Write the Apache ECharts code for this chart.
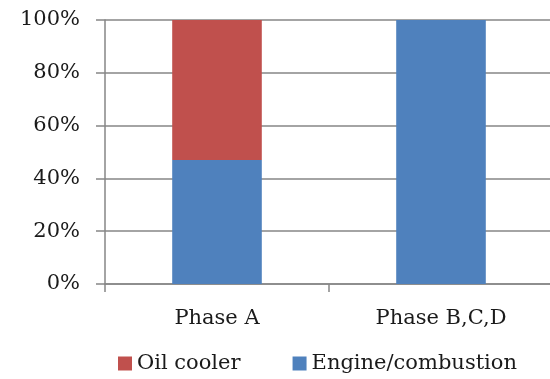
<!DOCTYPE html>
<html><head><meta charset="utf-8">
<script src="https://cdn.jsdelivr.net/npm/echarts@6/dist/echarts.min.js"></script>
<style>html,body{margin:0;padding:0;background:#fff}#c{width:550px;height:379px}</style>
</head><body><div id="c"></div>
<script>
const categories = ['Phase A', 'Phase B,C,D'];
const engineValues = [47, 100];
const oilCoolerValues = [53, 0];
const yTicks = [0, 20, 40, 60, 80, 100];

const FONT = 'DejaVu Serif';
const TXT = '#1a1a1a';
const AX = '#868686';
const chart = echarts.init(document.getElementById('c'), null, {renderer: 'canvas'});
chart.setOption({
  animation: false,
  backgroundColor: '#fff',
  grid: {left: 105, top: 20, width: 448, height: 264, containLabel: false, outerBoundsMode: 'none'},
  legend: {
    left: 113, top: 348,
    itemWidth: 14, itemHeight: 14, itemGap: 52,
    icon: 'rect',
    textStyle: {fontFamily: FONT, fontSize: 21, color: TXT},
    data: ['Oil cooler', 'Engine/combustion']
  },
  xAxis: {
    type: 'category', data: categories,
    axisLine: {lineStyle: {color: AX, width: 1.5}},
    axisTick: {show: true, length: 8, lineStyle: {color: AX, width: 1.5}},
    axisLabel: {fontFamily: FONT, fontSize: 21, color: TXT, margin: 24}
  },
  yAxis: {
    type: 'value', min: 0, max: 100, interval: 20,
    axisLine: {show: true, lineStyle: {color: AX, width: 1.5}},
    axisTick: {show: true, length: 9, lineStyle: {color: AX, width: 1.5}},
    splitLine: {show: true, lineStyle: {color: AX, width: 1.5}},
    axisLabel: {fontFamily: FONT, fontSize: 21, color: TXT, margin: 25,
      formatter: v => yTicks.includes(v) ? v + '%' : ''}
  },
  series: [
    {name: 'Engine/combustion', type: 'bar', stack: 't', data: engineValues,
     barWidth: '40%', itemStyle: {color: '#4F81BD'}},
    {name: 'Oil cooler', type: 'bar', stack: 't', data: oilCoolerValues,
     barWidth: '40%', itemStyle: {color: '#C0504D'}}
  ]
});
</script></body></html>
